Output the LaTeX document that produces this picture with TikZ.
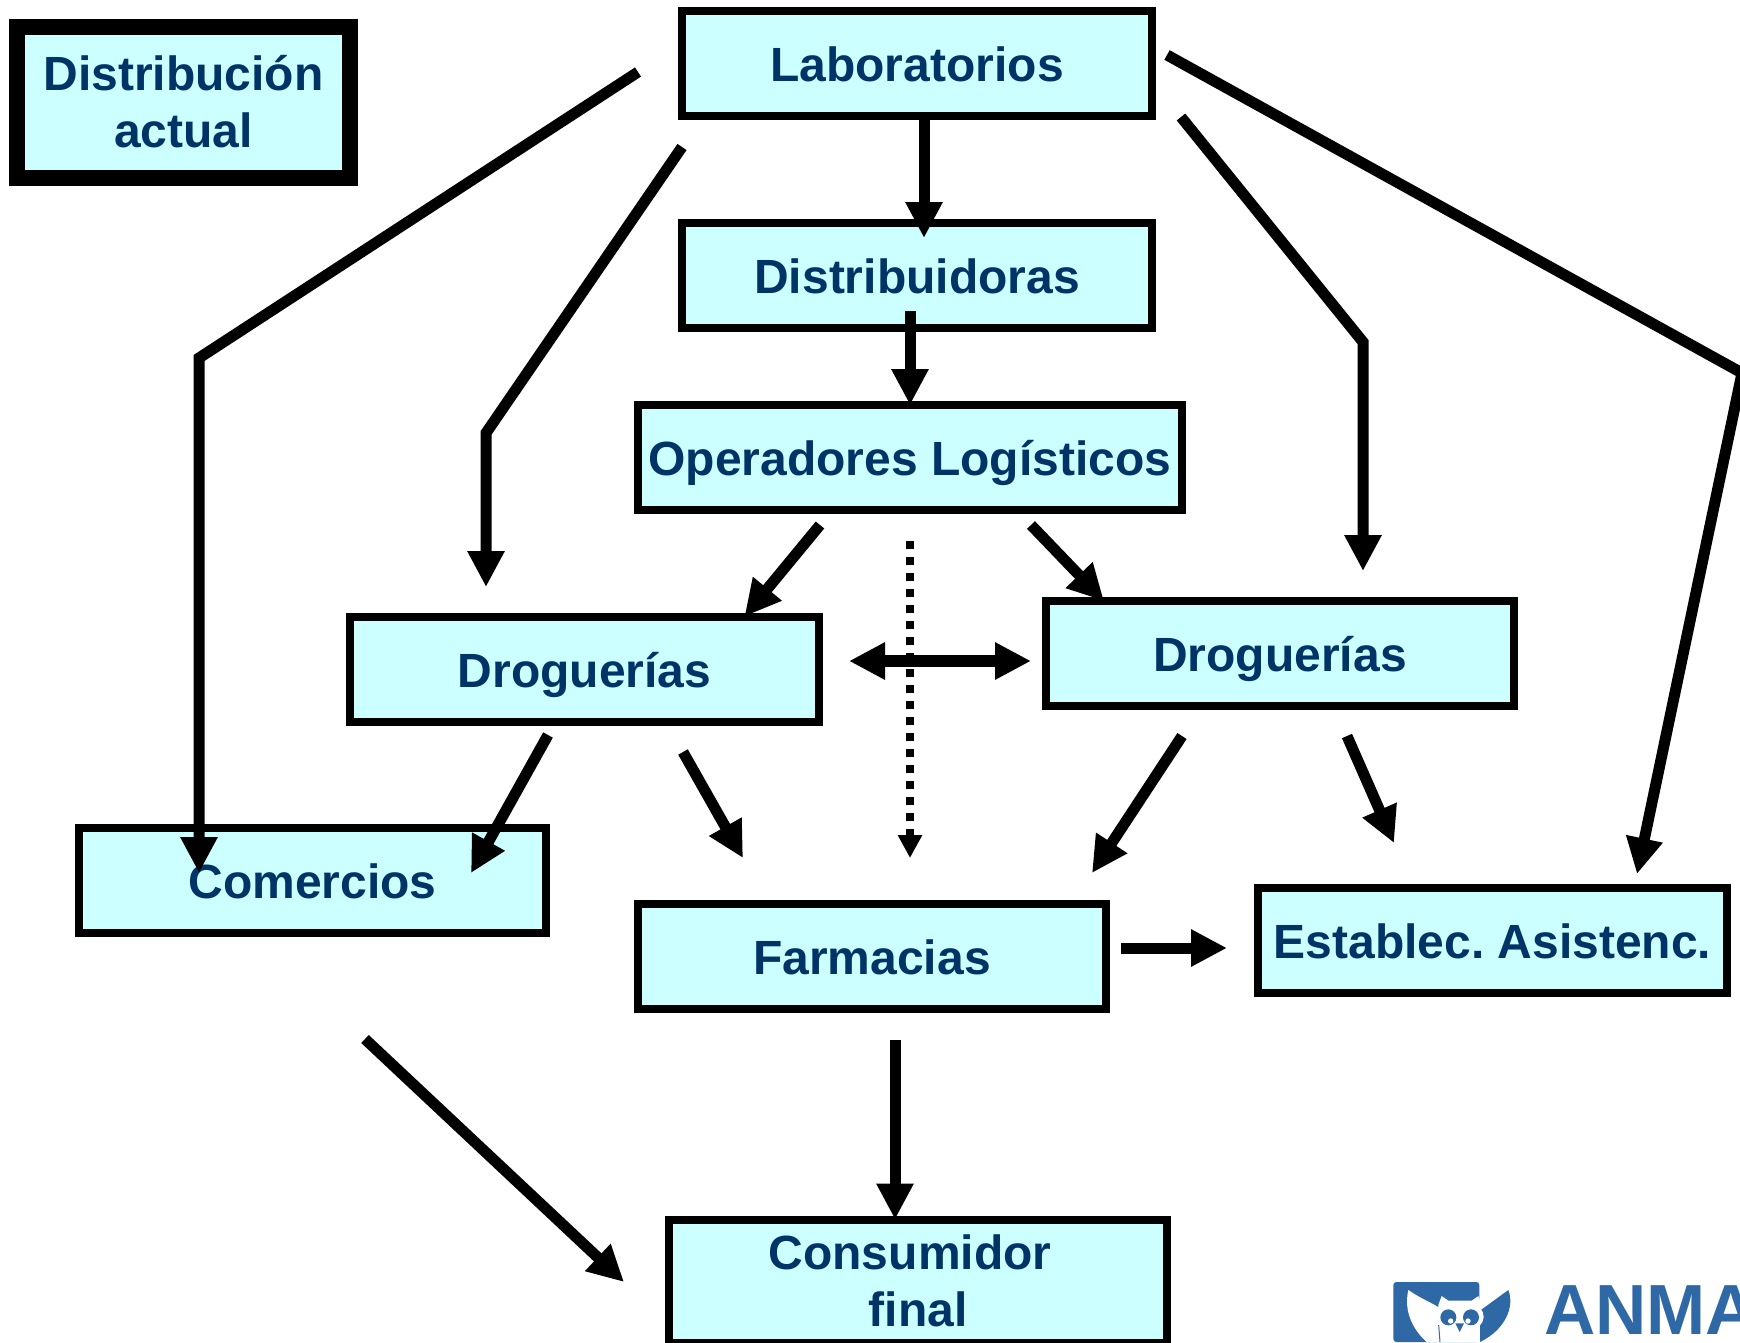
\documentclass[tikz,border=0pt]{standalone}
\usepackage{fontspec}
\setmainfont{Liberation Sans}
\usetikzlibrary{arrows.meta}

\definecolor{boxfill}{HTML}{CCFFFF}
\definecolor{boxtext}{HTML}{003366}
\definecolor{logoblue}{HTML}{2F69A5}

\tikzset{
  box/.style={draw=black, line width=8pt, fill=boxfill, text=boxtext, outer sep=0pt, inner sep=0pt,
    align=center, minimum width=#1, minimum height=105pt,
    font=\fontsize{48}{57}\selectfont\bfseries},
  box/.default={470pt},
  oneline/.style={text height=36pt, text depth=0pt},
  arr/.style={draw=black, line width=11pt, -{Triangle[length=36pt, width=35pt]}}
}

\begin{document}
\begin{tikzpicture}[x=1pt, y=-1pt]
  \clip (0,0) rectangle (1740,1342);
  \fill[white] (0,0) rectangle (1740,1342);

  % boxes
  \node (titulo) [box=333pt, minimum height=151pt, line width=16pt] at (183.5,102) {Distribución\\actual};
  \node (labo) [box=470pt, oneline] at (917,63.5) {Laboratorios};
  \node (distrib) [box=470pt, oneline] at (917,275.5) {Distribuidoras};
  \node (oper) [box=544pt, oneline] at (910,457.5) {Operadores Logísticos};
  \node (drogl) [box=469pt, oneline] at (584.5,669) {Droguerías};
  \node (drogr) [box=468pt, oneline] at (1280,653.5) {Droguerías};
  \node (comer) [box=467pt, oneline] at (312.5,880.5) {Comercios};
  \node (farma) [box=468pt, oneline] at (872,956) {Farmacias};
  \node (estab) [box=469pt, oneline] at (1492.5,940.5) {Establec.\ Asistenc.};
  \node (consu) [box=498pt, minimum height=123pt] at (918,1281) {Consumidor\hspace*{16pt}\\final};

  % free ends of the arrows
  \coordinate (a1) at (638,72);
  \coordinate (a2) at (199,358);
  \coordinate (a3) at (199,873);
  \coordinate (b1) at (682,147);
  \coordinate (b2) at (486,433);
  \coordinate (b3) at (486,587);
  \coordinate (c1) at (1181,117);
  \coordinate (c2) at (1363,342);
  \coordinate (c3) at (1363,571);
  \coordinate (d1) at (1167,55);
  \coordinate (d2) at (1742,373);
  \coordinate (d3) at (1637,874);
  \coordinate (e1) at (820,525);
  \coordinate (e2) at (1031,525);
  \coordinate (f1) at (910,541);
  \coordinate (f2) at (910,858);
  \coordinate (g1) at (849,661);
  \coordinate (g2) at (1031,661);
  \coordinate (h1) at (548,735);
  \coordinate (h2) at (471,873);
  \coordinate (i1) at (683,752);
  \coordinate (i2) at (743,858);
  \coordinate (j1) at (1182,736);
  \coordinate (j2) at (1092,873);
  \coordinate (k1) at (1347,736);
  \coordinate (k2) at (1394,843);
  \coordinate (l1) at (1121,948);
  \coordinate (l2) at (1227,948);
  \coordinate (m1) at (895,1040);
  \coordinate (n1) at (365,1039);
  \coordinate (n2) at (624,1282);

  % arrows
  \draw[arr] (a1) -- (a2) -- (a3);
  \draw[arr] (b1) -- (b2) -- (b3);
  \draw[arr] (c1) -- (c2) -- (c3);
  \draw[arr] (d1) -- (d2) -- (d3);
  \draw[arr] ([xshift=7pt]labo.south) -- ([xshift=7pt, yshift=-15pt]distrib.north);
  \draw[arr] ([xshift=-7pt, yshift=17pt]distrib.south) -- (oper.north);
  \draw[arr] (e1) -- ([xshift=160pt]drogl.north);
  \draw[arr] (e2) -- ([xshift=-176pt]drogr.north);
  \draw[arr] (h1) -- (h2);
  \draw[arr] (i1) -- (i2);
  \draw[arr] (j1) -- (j2);
  \draw[arr] (k1) -- (k2);
  \draw[arr] (l1) -- (l2);
  \draw[arr] (m1) -- ([xshift=-23pt]consu.north);
  \draw[arr] (n1) -- (n2);
  \draw[line width=12pt, {Triangle[length=36pt, width=35pt]}-{Triangle[length=36pt, width=35pt]}] (g1) -- (g2);
  \draw[line width=8pt, dash pattern=on 8pt off 8pt, -{Triangle[length=23pt, width=23pt]}] (f1) -- (f2);

  % logo
  \begin{scope}[shift={(1340,1240)}, x=0.3333pt, y=-0.3333pt]
    \fill[logoblue, rounded corners=3pt] (160,126) rectangle (418,306);
    \fill[white] (205,150) .. controls (240,175) and (280,190) .. (300,205) -- (300,306) -- (260,306)
      .. controls (220,270) and (190,215) .. (205,150) -- cycle;
    \fill[white] (295,195) -- (305,168) -- (325,182) -- (395,182) -- (415,168) -- (425,195) -- (425,306) -- (295,306) -- cycle;
    \fill[logoblue] (505,150) .. controls (525,200) and (495,270) .. (420,306) -- (420,212) -- cycle;
    \fill[white] (325,230) circle (36) (395,230) circle (36);
    \fill[logoblue] (325,232) circle (24) (393,232) circle (24);
    \fill[white] (332,243) circle (8) (384,243) circle (8);
    \fill[logoblue] (346,250) -- (372,250) -- (359,276) -- cycle;
    \draw[logoblue, line width=1pt] (296,255) -- (300,306);
  \end{scope}
  \node (anma) [anchor=base west, inner sep=0pt, text=logoblue, font=\fontsize{71}{71}\selectfont\bfseries] at (1544,1334) {ANMA};
\end{tikzpicture}
\end{document}
